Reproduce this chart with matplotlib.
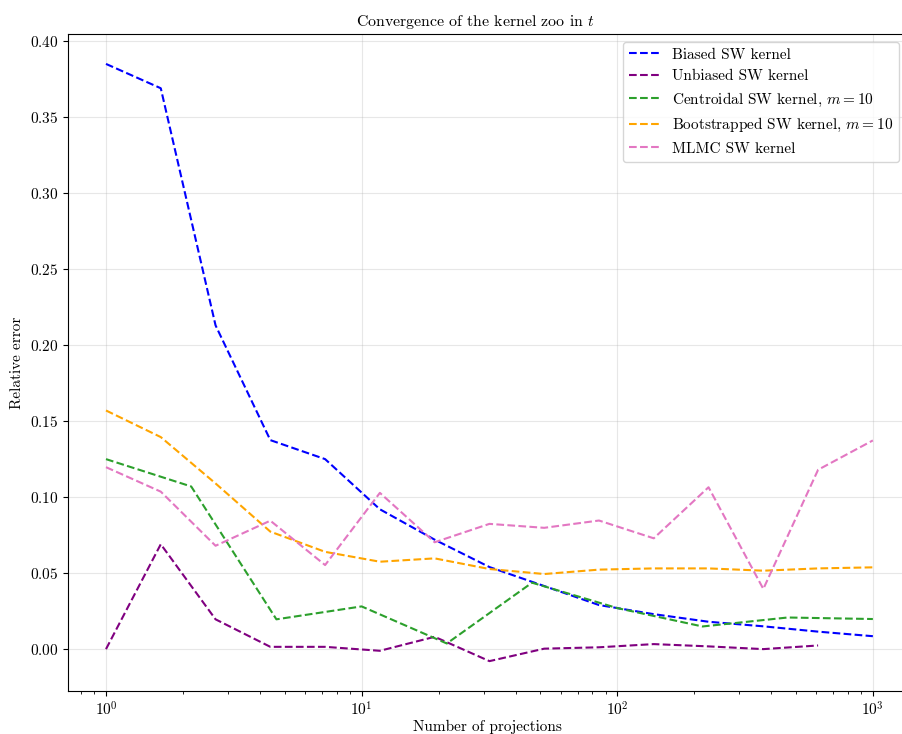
import numpy as np
import matplotlib
matplotlib.use("Agg")
import matplotlib.pyplot as plt

# ============================================================
# CONVERGENCE OF THE KERNEL ZOO - relative error vs projections
# ============================================================

plt.rcParams["font.family"] = "serif"
plt.rcParams["font.serif"] = ["cmr10"]
plt.rcParams["mathtext.fontset"] = "cm"
plt.rcParams["axes.formatter.use_mathtext"] = True
plt.rcParams["axes.unicode_minus"] = False

# Number of projections (log grid)
N_PROJ = np.logspace(0, 3, 15)
N_PROJ_CENTROID = np.logspace(0, 3, 10)

BIASED = [0.385, 0.369, 0.213, 0.1375, 0.125, 0.092, 0.072, 0.054,
          0.0415, 0.029, 0.023, 0.018, 0.015, 0.0115, 0.0085]
UNBIASED = [0.0, 0.069, 0.0196, 0.0015, 0.0015, -0.0011, 0.0081, -0.0079,
            0.0003, 0.0012, 0.0033, 0.0018, 0.0, 0.0024, np.nan]
CENTROIDAL = [0.125, 0.107, 0.0196, 0.0281, 0.0037, 0.0437, 0.027,
              0.0149, 0.0208, 0.0198]
BOOTSTRAPPED = [0.157, 0.1395, 0.109, 0.0773, 0.064, 0.0575, 0.0597, 0.0527,
                0.0494, 0.0523, 0.0531, 0.0531, 0.0516, 0.0531, 0.0538]
MLMC = [0.1197, 0.1036, 0.068, 0.0845, 0.0553, 0.1028, 0.0703, 0.0824,
        0.0798, 0.0846, 0.0729, 0.1065, 0.0396, 0.118, 0.1373]

# (x, y, label, color)
SERIES = [
    (N_PROJ, BIASED, "Biased SW kernel", "blue"),
    (N_PROJ, UNBIASED, "Unbiased SW kernel", "purple"),
    (N_PROJ_CENTROID, CENTROIDAL, r"Centroidal SW kernel, $m = 10$", "tab:green"),
    (N_PROJ, BOOTSTRAPPED, r"Bootstrapped SW kernel, $m = 10$", "orange"),
    (N_PROJ, MLMC, "MLMC SW kernel", "tab:pink"),
]

fig = plt.figure(figsize=(9.02, 7.34), dpi=100)
ax = fig.add_axes([0.0754, 0.0586, 0.930, 0.895])

for x, y, label, color in SERIES:
    ax.plot(x, y, linestyle="--", color=color, linewidth=1.5, label=label)

ax.set_xscale("log")
ax.set_xlim(10 ** -0.1486, 10 ** 3.133)
ax.grid(True, alpha=0.3)
ax.set_xlabel("Number of projections", fontsize=11, labelpad=0.5)
ax.set_ylabel("Relative error", fontsize=11)
ax.set_title(r"Convergence of the kernel zoo in $t$", fontsize=11.4, x=0.485)
ax.tick_params(labelsize=11)
ax.legend(loc="upper right", fontsize=11)

fig.savefig("out.png", dpi=100)
